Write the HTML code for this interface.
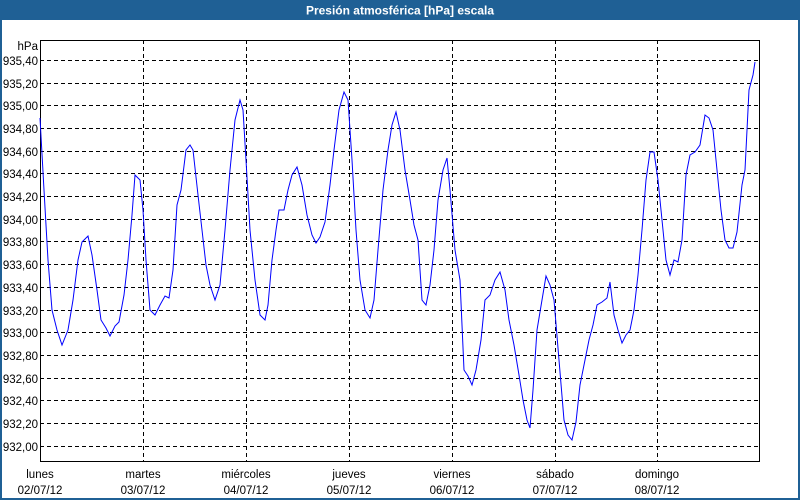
<!DOCTYPE html>
<html><head><meta charset="utf-8"><style>
body{margin:0;background:#fff}
svg{display:block}
text{font-family:"Liberation Sans",sans-serif;font-size:11.5px;fill:#000}
</style></head><body>
<svg width="800" height="500" viewBox="0 0 800 500">
<rect x="0" y="0" width="800" height="500" fill="#1f6095"/>
<rect x="2" y="20" width="796" height="478" fill="#fff"/>
<text x="400" y="14.5" text-anchor="middle" style="font-weight:bold;fill:#fff;font-size:12px">Presión atmosférica [hPa] escala</text>
<g stroke="#000" stroke-width="1" stroke-dasharray="4,3" shape-rendering="crispEdges">
<line x1="40" x2="760" y1="60.5" y2="60.5"/><line x1="40" x2="760" y1="83.5" y2="83.5"/><line x1="40" x2="760" y1="105.5" y2="105.5"/><line x1="40" x2="760" y1="128.5" y2="128.5"/><line x1="40" x2="760" y1="151.5" y2="151.5"/><line x1="40" x2="760" y1="173.5" y2="173.5"/><line x1="40" x2="760" y1="196.5" y2="196.5"/><line x1="40" x2="760" y1="219.5" y2="219.5"/><line x1="40" x2="760" y1="241.5" y2="241.5"/><line x1="40" x2="760" y1="264.5" y2="264.5"/><line x1="40" x2="760" y1="287.5" y2="287.5"/><line x1="40" x2="760" y1="310.5" y2="310.5"/><line x1="40" x2="760" y1="332.5" y2="332.5"/><line x1="40" x2="760" y1="355.5" y2="355.5"/><line x1="40" x2="760" y1="378.5" y2="378.5"/><line x1="40" x2="760" y1="400.5" y2="400.5"/><line x1="40" x2="760" y1="423.5" y2="423.5"/><line x1="40" x2="760" y1="446.5" y2="446.5"/>
<line x1="143.5" x2="143.5" y1="40" y2="461"/><line x1="246.5" x2="246.5" y1="40" y2="461"/><line x1="349.5" x2="349.5" y1="40" y2="461"/><line x1="452.5" x2="452.5" y1="40" y2="461"/><line x1="555.5" x2="555.5" y1="40" y2="461"/><line x1="657.5" x2="657.5" y1="40" y2="461"/>
</g>
<rect x="40.5" y="40.5" width="719" height="421" fill="none" stroke="#000" shape-rendering="crispEdges"/>
<g text-anchor="end">
<text x="38" y="50">hPa</text>
<text x="38" y="65">935,40</text><text x="38" y="88">935,20</text><text x="38" y="110">935,00</text><text x="38" y="133">934,80</text><text x="38" y="156">934,60</text><text x="38" y="178">934,40</text><text x="38" y="201">934,20</text><text x="38" y="224">934,00</text><text x="38" y="246">933,80</text><text x="38" y="269">933,60</text><text x="38" y="292">933,40</text><text x="38" y="315">933,20</text><text x="38" y="337">933,00</text><text x="38" y="360">932,80</text><text x="38" y="383">932,60</text><text x="38" y="405">932,40</text><text x="38" y="428">932,20</text><text x="38" y="451">932,00</text>
</g>
<g text-anchor="middle">
<text x="40" y="478">lunes</text><text x="40" y="494">02/07/12</text>
<text x="143" y="478">martes</text><text x="143" y="494">03/07/12</text>
<text x="246" y="478">miércoles</text><text x="246" y="494">04/07/12</text>
<text x="349" y="478">jueves</text><text x="349" y="494">05/07/12</text>
<text x="452" y="478">viernes</text><text x="452" y="494">06/07/12</text>
<text x="555" y="478">sábado</text><text x="555" y="494">07/07/12</text>
<text x="657" y="478">domingo</text><text x="657" y="494">08/07/12</text>
</g>
<polyline fill="none" stroke="#0000ff" stroke-width="1" points="40,118 44,190 48,260 52,310 57,330 62,345 68,330 73,300 78,260 82,242 88,236 92,255 97,290 101,320 106,328 110,336 115,326 119,322 124,295 128,260 132,215 135,175 140,180 143,210 146,260 150,310 155,315 160,305 165,296 169,298 173,270 177,205 181,190 186,150 190,145 193,150 198,195 202,230 206,265 210,285 215,300 220,285 225,230 230,170 235,120 240,100 243,110 246,160 250,230 255,280 260,315 265,320 268,305 272,260 276,230 279,210 284,210 288,190 292,175 297,167 302,185 307,215 312,235 316,243 320,237 325,222 330,185 334,150 339,110 344,92 348,100 352,160 356,230 360,280 365,310 370,318 374,300 378,250 383,190 388,150 392,125 396,112 400,130 405,170 410,200 414,225 418,240 422,300 426,305 430,285 434,250 438,200 443,170 447,158 450,190 455,250 460,280 464,370 468,376 472,385 476,370 481,340 485,300 490,295 495,280 500,272 505,290 509,320 514,345 519,375 523,400 527,420 530,428 533,390 537,330 542,300 546,276 550,285 554,300 559,360 564,420 568,435 572,440 576,422 580,385 585,360 589,340 593,325 597,305 602,302 607,298 610,282 614,315 618,330 622,343 626,335 630,330 634,310 638,275 642,230 646,180 650,152 654,152 658,180 662,220 666,260 670,275 674,260 678,262 682,240 686,175 690,155 695,152 700,145 705,115 709,118 713,130 717,170 721,210 725,240 729,248 733,248 737,232 742,185 745,170 749,90 753,75 755,62"/>
</svg>
</body></html>
